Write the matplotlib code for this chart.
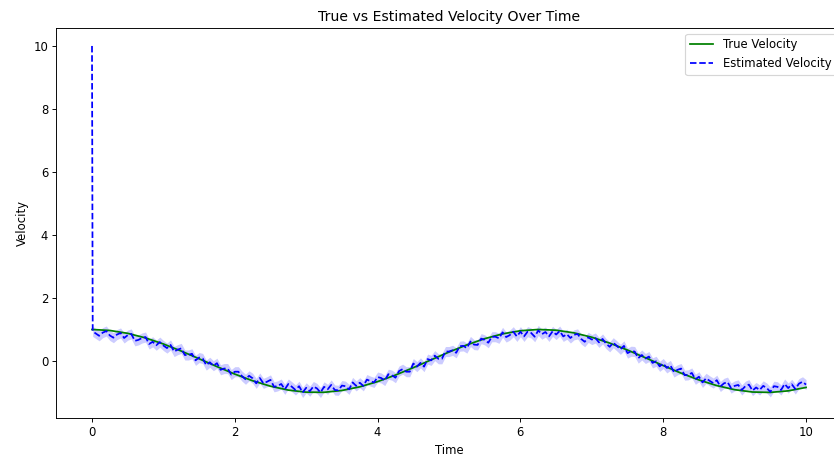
import numpy as np
import matplotlib
matplotlib.use("Agg")
import matplotlib.pyplot as plt

# true velocity, sampled every 0.25 s
t_true = np.arange(0, 41) * 0.25
v_true = [1.000, 0.969, 0.878, 0.732, 0.540, 0.315, 0.071, -0.178, -0.416, -0.628,
          -0.801, -0.924, -0.990, -0.994, -0.936, -0.820, -0.654, -0.446, -0.211, 0.037,
          0.284, 0.512, 0.709, 0.861, 0.960, 1.000, 0.977, 0.893, 0.754, 0.568,
          0.347, 0.103, -0.146, -0.386, -0.602, -0.781, -0.911, -0.985, -0.997, -0.948,
          -0.839]

# filter output: initial guess at t=0, first update at t=0.01, then every 0.05 s
t_est = np.concatenate([[0.0, 0.01], np.arange(2, 201) * 0.05])
v_est = [10.0,
         0.94, 0.80, 0.90, 0.95, 0.81, 0.74, 0.84, 0.89, 0.73, 0.82,
         0.86, 0.64, 0.67, 0.73, 0.76, 0.54, 0.61, 0.50, 0.60, 0.49,
         0.41, 0.51, 0.30, 0.36, 0.40, 0.19, 0.19, 0.23, 0.02, 0.11,
         0.08, -0.13, -0.04, -0.15, -0.07, -0.28, -0.24, -0.24, -0.43, -0.34,
         -0.34, -0.48, -0.58, -0.47, -0.55, -0.71, -0.54, -0.71, -0.66, -0.60,
         -0.82, -0.79, -0.73, -0.90, -0.73, -0.82, -0.92, -0.80, -1.00, -0.85,
         -0.96, -0.81, -0.87, -1.00, -0.82, -0.90, -0.76, -0.92, -0.93, -0.78,
         -0.80, -0.90, -0.68, -0.79, -0.69, -0.79, -0.59, -0.64, -0.68, -0.51,
         -0.54, -0.62, -0.42, -0.45, -0.53, -0.32, -0.26, -0.34, -0.34, -0.08,
         -0.18, -0.06, -0.18, 0.06, 0.02, 0.17, 0.07, 0.07, 0.30, 0.30,
         0.34, 0.26, 0.47, 0.48, 0.41, 0.62, 0.52, 0.51, 0.71, 0.67,
         0.58, 0.77, 0.77, 0.72, 0.91, 0.76, 0.82, 0.93, 0.78, 0.93,
         0.78, 0.93, 0.89, 0.77, 0.97, 0.85, 0.92, 0.78, 0.94, 0.84,
         0.95, 0.78, 0.85, 0.73, 0.83, 0.86, 0.70, 0.61, 0.75, 0.68,
         0.73, 0.59, 0.70, 0.55, 0.45, 0.58, 0.48, 0.37, 0.48, 0.25,
         0.31, 0.30, 0.09, 0.19, 0.08, 0.14, -0.06, -0.01, -0.17, -0.08,
         -0.22, -0.14, -0.35, -0.28, -0.24, -0.45, -0.44, -0.38, -0.58, -0.50,
         -0.68, -0.55, -0.63, -0.70, -0.61, -0.81, -0.71, -0.67, -0.86, -0.79,
         -0.76, -0.92, -0.80, -0.75, -0.94, -0.84, -0.92, -0.79, -0.86, -0.98,
         -0.80, -0.82, -0.92, -0.73, -0.86, -0.74, -0.89, -0.72, -0.66, -0.75]
band = 0.16  # half width of the uncertainty band

v_est = np.array(v_est)

fig = plt.figure(figsize=(834 / 84, 456 / 84), dpi=84)
ax = fig.add_axes([0.0675, 0.0833, 0.9418, 0.8553])

ax.plot(t_true, v_true, color="green", label="True Velocity")
ax.plot(t_est, v_est, "b--", label="Estimated Velocity")
ax.fill_between(t_est[1:], v_est[1:] - band, v_est[1:] + band, color="blue", alpha=0.2, linewidth=0)

ax.set_xlim(-0.5, 10.5)
ax.set_ylim(-1.81, 10.57)
ax.set_title("True vs Estimated Velocity Over Time")
ax.set_xlabel("Time")
ax.set_ylabel("Velocity")
ax.legend(loc="upper right")

fig.savefig("out.png", dpi=84)
